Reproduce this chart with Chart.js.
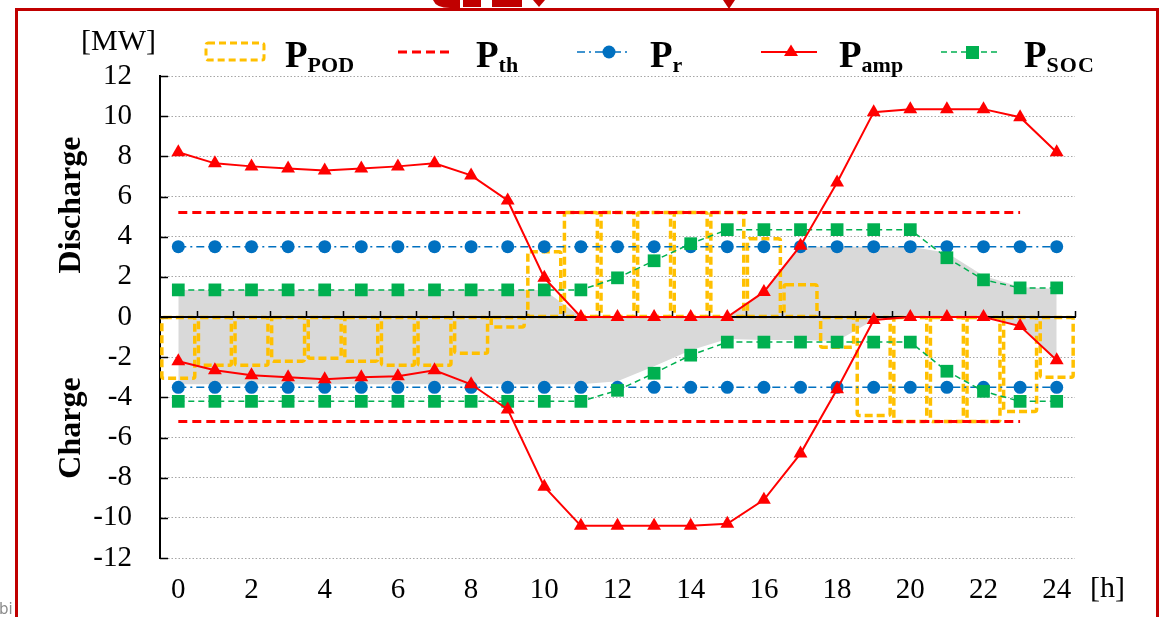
<!DOCTYPE html>
<html>
<head>
<meta charset="utf-8">
<script src="https://cdn.jsdelivr.net/npm/chart.js@4/dist/chart.umd.min.js"></script>
<style>
  html, body { margin: 0; padding: 0; background: #fff; }
  #wrap { position: relative; width: 1160px; height: 617px; overflow: hidden; background: #fff; }
  #plot { position: absolute; left: 0; top: 0; width: 1160px; height: 617px; }
  .frame { position: absolute; left: 15px; top: 8px; width: 1144px; height: 700px;
           border: 3px solid #C00000; box-sizing: border-box; pointer-events: none; }
  .lg { position: absolute; font: bold 37px 'Liberation Serif', serif; line-height: 37px;
        color: #000; white-space: nowrap; }
  .lg .sb { font-size: 22px; position: relative; top: 5px; }
  .unit { position: absolute; font: 30px 'Liberation Serif', serif; line-height: 30px; color: #000; }
  .vt { position: absolute; font: bold 32px 'Liberation Serif', serif; line-height: 32px;
        white-space: nowrap; color: #000; transform: translate(-50%, -50%) rotate(-90deg); }
  .corner { position: absolute; left: -1px; top: 600px; font: 15px 'DejaVu Sans', sans-serif; color: #8c8c8c; }
</style>
</head>
<body>
<div id="wrap">
  <div id="plot"><canvas id="c"></canvas></div>

  <!-- legend symbols -->
  <svg width="1160" height="80" style="position:absolute;left:0;top:0">
    <!-- red decoration along the frame top -->
    <path d="M433 0 Q436 8 450 8 L460 8 L460 0 Z" fill="#C00000"/>
    <rect x="463" y="0" width="18" height="7" fill="#C00000"/>
    <rect x="492" y="0" width="30" height="7" fill="#C00000"/>
    <path d="M533 0 L545 0 L539 7 Z" fill="#C00000"/>
    <path d="M723 0 L735 0 L729 9 Z" fill="#C00000"/>
    <rect x="206" y="43" width="58" height="17" rx="2" fill="none" stroke="#FFC000" stroke-width="3" stroke-dasharray="7 4"/>
    <line x1="398" y1="52" x2="451" y2="52" stroke="#FF0000" stroke-width="3" stroke-dasharray="9 5"/>
    <line x1="577" y1="52" x2="628" y2="52" stroke="#0070C0" stroke-width="1.5" stroke-dasharray="8 4 2 4"/>
    <circle cx="609" cy="52" r="6.5" fill="#0070C0"/>
    <line x1="761" y1="52" x2="817" y2="52" stroke="#FF0000" stroke-width="2"/>
    <path d="M791 44.5 L798 56 L784 56 Z" fill="#FF0000"/>
    <line x1="941" y1="52" x2="999" y2="52" stroke="#00B050" stroke-width="1.5" stroke-dasharray="6 4"/>
    <rect x="966" y="46" width="13" height="13" fill="#00B050"/>
  </svg>
  <div class="lg" style="left:285px;top:36px">P<span class="sb">POD</span></div>
  <div class="lg" style="left:476px;top:36px">P<span class="sb">th</span></div>
  <div class="lg" style="left:650px;top:36px">P<span class="sb">r</span></div>
  <div class="lg" style="left:839px;top:36px">P<span class="sb">amp</span></div>
  <div class="lg" style="left:1024px;top:36px">P<span class="sb" style="letter-spacing:1px">SOC</span></div>

  <div class="unit" style="left:81px;top:25px">[MW]</div>
  <div class="unit" style="left:1090px;top:572px">[h]</div>
  <div class="vt" style="left:69px;top:205px">Discharge</div>
  <div class="vt" style="left:69px;top:428px">Charge</div>

  <div class="frame"></div>
  <div class="corner">bi</div>
</div>

<script>
// Hours of the day (category axis)
const hours = ['0','1','2','3','4','5','6','7','8','9','10','11','12','13','14','15','16','17','18','19','20','21','22','23','24'];
// Only even hours carry a visible tick label
const hourTickLabels = ['0','','2','','4','','6','','8','','10','','12','','14','','16','','18','','20','','22','','24'];
// Power axis ticks [MW]
const powerTicks = [12, 10, 8, 6, 4, 2, 0, -2, -4, -6, -8, -10, -12];

// P_POD: scheduled power per hour (bars)
const pPOD = [-3.05, -2.4, -2.4, -2.2, -2.05, -2.2, -2.4, -2.4, -1.8, -0.5,
              3.25, 5.2, 5.2, 5.2, 5.2, 5.2, 3.9, 1.6,
              -1.5, -4.9, -5.2, -5.2, -5.2, -4.7, -3.0];

// P_th: threshold (discharge / charge), defined up to hour 23
const pThDis = [5.2, 5.2, 5.2, 5.2, 5.2, 5.2, 5.2, 5.2, 5.2, 5.2, 5.2, 5.2,
                5.2, 5.2, 5.2, 5.2, 5.2, 5.2, 5.2, 5.2, 5.2, 5.2, 5.2, 5.2, null];
const pThChg = [-5.2, -5.2, -5.2, -5.2, -5.2, -5.2, -5.2, -5.2, -5.2, -5.2, -5.2, -5.2,
                -5.2, -5.2, -5.2, -5.2, -5.2, -5.2, -5.2, -5.2, -5.2, -5.2, -5.2, -5.2, null];

// P_r: rated power (discharge / charge)
const pRDis = [3.5, 3.5, 3.5, 3.5, 3.5, 3.5, 3.5, 3.5, 3.5, 3.5, 3.5, 3.5, 3.5,
               3.5, 3.5, 3.5, 3.5, 3.5, 3.5, 3.5, 3.5, 3.5, 3.5, 3.5, 3.5];
const pRChg = [-3.5, -3.5, -3.5, -3.5, -3.5, -3.5, -3.5, -3.5, -3.5, -3.5, -3.5, -3.5, -3.5,
               -3.5, -3.5, -3.5, -3.5, -3.5, -3.5, -3.5, -3.5, -3.5, -3.5, -3.5, -3.5];

// P_amp: available amplitude (discharge / charge)
const pAmpDis = [8.2, 7.65, 7.5, 7.4, 7.3, 7.4, 7.5, 7.65, 7.05, 5.8, 1.95, 0, 0, 0, 0, 0,
                 1.25, 3.55, 6.7, 10.2, 10.35, 10.35, 10.35, 9.95, 8.2];
const pAmpChg = [-2.2, -2.65, -2.9, -3.0, -3.1, -3.0, -2.95, -2.65, -3.35, -4.6, -8.45,
                 -10.4, -10.4, -10.4, -10.4, -10.3, -9.1, -6.8, -3.6, -0.15, 0, 0, 0, -0.45, -2.15];

// P_SOC: state-of-charge limited power (discharge / charge)
const pSocDis = [1.35, 1.35, 1.35, 1.35, 1.35, 1.35, 1.35, 1.35, 1.35, 1.35, 1.35, 1.35,
                 1.95, 2.8, 3.65, 4.35, 4.35, 4.35, 4.35, 4.35, 4.35, 2.95, 1.85, 1.45, 1.45];
const pSocChg = [-4.2, -4.2, -4.2, -4.2, -4.2, -4.2, -4.2, -4.2, -4.2, -4.2, -4.2, -4.2,
                 -3.65, -2.8, -1.9, -1.25, -1.25, -1.25, -1.25, -1.25, -1.25, -2.7, -3.7, -4.2, -4.2];

// Shaded feasible band (upper / lower envelope)
const bandUpper = [1.35, 1.35, 1.35, 1.35, 1.35, 1.35, 1.35, 1.35, 1.35, 1.35, 1.35,
                   0, 0, 0, 0, 0, 1.25, 3.5, 3.5, 3.5, 3.5, 3.2, 2.05, 1.5, 1.4];
const bandLower = [-3.35, -3.35, -3.35, -3.35, -3.35, -3.35, -3.35, -3.35, -3.35, -3.35, -3.35, -3.35,
                   -3.2, -2.45, -1.65, -1.1, -1.15, -1.15, -1.2, -0.15, 0, 0, 0, -0.45, -2.15];

const SERIF = "'Liberation Serif', 'Times New Roman', serif";

// Dashed outlines for the P_POD bars, plus the zero axis with its half-hour ticks
const podOutline = {
  id: 'podOutline',
  afterDatasetDraw(chart, args) {
    if (args.meta.type !== 'bar') return;
    const ctx = chart.ctx;
    const xs = chart.scales.x, ys = chart.scales.y;
    const area = chart.chartArea;
    ctx.save();
    ctx.strokeStyle = '#FFC000';
    ctx.lineWidth = 3.5;
    ctx.lineJoin = 'round';
    ctx.setLineDash([8, 4]);
    args.meta.data.forEach(el => {
      const p = el.getProps(['x', 'y', 'base', 'width'], true);
      const top = Math.min(p.y, p.base), h = Math.abs(p.base - p.y);
      ctx.beginPath();
      ctx.roundRect ? ctx.roundRect(p.x - p.width / 2, top, p.width, h, 2)
                    : ctx.rect(p.x - p.width / 2, top, p.width, h);
      ctx.stroke();
    });
    ctx.setLineDash([]);
    const y0 = Math.round(ys.getPixelForValue(0));
    ctx.strokeStyle = '#000';
    ctx.lineWidth = 2;
    ctx.beginPath();
    ctx.moveTo(area.left, y0);
    ctx.lineTo(area.right + 1, y0);
    ctx.stroke();
    const half = (xs.getPixelForValue(1) - xs.getPixelForValue(0)) / 2;
    ctx.lineWidth = 1.5;
    ctx.beginPath();
    for (let i = 0; i < hours.length; i++) {
      const px = Math.round(xs.getPixelForValue(i) + half) + 0.5;
      ctx.moveTo(px, y0);
      ctx.lineTo(px, y0 - 6);
    }
    ctx.stroke();
    // inward ticks on the power axis
    ctx.beginPath();
    powerTicks.forEach(v => {
      const py = Math.round(ys.getPixelForValue(v)) + 0.5;
      ctx.moveTo(area.left, py);
      ctx.lineTo(area.left + 8, py);
    });
    ctx.stroke();
    ctx.restore();
  }
};

const band = (data) => ({
  type: 'line', data, fill: 'origin', backgroundColor: '#D9D9D9',
  borderWidth: 0, pointRadius: 0, tension: 0, order: 10
});

new Chart(document.getElementById('c'), {
  data: {
    labels: hours,
    datasets: [
      band(bandUpper),
      band(bandLower),
      { type: 'bar', label: 'P_POD', data: pPOD, backgroundColor: 'rgba(0,0,0,0)',
        borderWidth: 0, barPercentage: 0.9, categoryPercentage: 1.0, order: 6 },
      { type: 'line', label: 'P_th', data: pThDis, borderColor: '#FF0000', borderWidth: 3,
        borderDash: [9, 5], pointRadius: 0, fill: false, order: 5 },
      { type: 'line', label: 'P_th', data: pThChg, borderColor: '#FF0000', borderWidth: 3,
        borderDash: [9, 5], pointRadius: 0, fill: false, order: 5 },
      { type: 'line', label: 'P_r', data: pRDis, borderColor: '#0070C0', borderWidth: 1.5,
        borderDash: [8, 4, 2, 4], pointStyle: 'circle', pointRadius: 6.5,
        pointBackgroundColor: '#0070C0', pointBorderWidth: 0, fill: false, order: 4 },
      { type: 'line', label: 'P_r', data: pRChg, borderColor: '#0070C0', borderWidth: 1.5,
        borderDash: [8, 4, 2, 4], pointStyle: 'circle', pointRadius: 6.5,
        pointBackgroundColor: '#0070C0', pointBorderWidth: 0, fill: false, order: 4 },
      { type: 'line', label: 'P_SOC', data: pSocDis, borderColor: '#00B050', borderWidth: 1.5,
        borderDash: [6, 4], pointStyle: 'rect', pointRadius: 9,
        pointBackgroundColor: '#00B050', pointBorderWidth: 0, fill: false, tension: 0, order: 3 },
      { type: 'line', label: 'P_SOC', data: pSocChg, borderColor: '#00B050', borderWidth: 1.5,
        borderDash: [6, 4], pointStyle: 'rect', pointRadius: 9,
        pointBackgroundColor: '#00B050', pointBorderWidth: 0, fill: false, tension: 0, order: 3 },
      { type: 'line', label: 'P_amp', data: pAmpDis, borderColor: '#FF0000', borderWidth: 2,
        pointStyle: 'triangle', pointRadius: 8, pointBackgroundColor: '#FF0000',
        pointBorderWidth: 0, fill: false, tension: 0, order: 1 },
      { type: 'line', label: 'P_amp', data: pAmpChg, borderColor: '#FF0000', borderWidth: 2,
        pointStyle: 'triangle', pointRadius: 8, pointBackgroundColor: '#FF0000',
        pointBorderWidth: 0, fill: false, tension: 0, order: 1 }
    ]
  },
  options: {
    responsive: true,
    maintainAspectRatio: false,
    animation: false,
    events: [],
    layout: { padding: { top: 76, right: 85, left: 0, bottom: 0 } },
    plugins: { legend: { display: false }, tooltip: { enabled: false } },
    scales: {
      x: {
        type: 'category',
        offset: true,
        grid: { display: false, drawTicks: false },
        border: { display: false },
        ticks: {
          autoSkip: false, maxRotation: 0, minRotation: 0, padding: 15, color: '#000',
          font: { family: SERIF, size: 29 },
          callback: (v, i) => hourTickLabels[i]
        },
        afterFit(s) { s.height = 59; }
      },
      y: {
        min: -12, max: 12,
        ticks: {
          stepSize: 2, padding: 28, color: '#000',
          font: { family: SERIF, size: 29 },
          callback: (v) => powerTicks.includes(v) ? String(v) : ''
        },
        grid: { color: '#A6A6A6', lineWidth: 1, drawTicks: false },
        border: { display: true, color: '#000', width: 2, dash: [1.5, 2] },
        afterFit(s) { s.width = 160; }
      }
    }
  },
  plugins: [podOutline]
});
</script>
</body>
</html>
